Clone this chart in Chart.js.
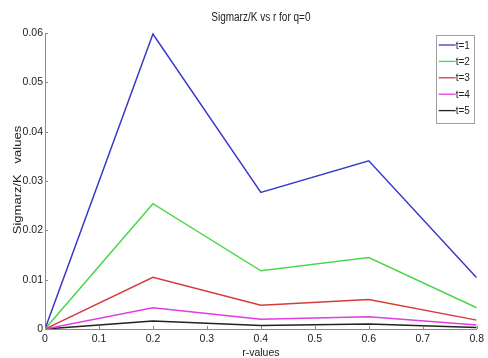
<!DOCTYPE html>
<html>
<head>
<meta charset="utf-8">
<script src="https://cdn.jsdelivr.net/npm/chart.js@4/dist/chart.umd.min.js"></script>
<style>
  html, body { margin: 0; padding: 0; background: #ffffff; }
  #wrap { width: 488px; height: 358px; position: relative; }
</style>
</head>
<body>
<div id="wrap"><canvas id="c" width="488" height="358"></canvas></div>
<script>
// r positions and Sigmarz/K values for each t
const rValues = [0, 0.2, 0.4, 0.6, 0.8];
const seriesT1 = [0, 0.0598, 0.0277, 0.0341, 0.0104];
const seriesT2 = [0, 0.0254, 0.0118, 0.0145, 0.0043];
const seriesT3 = [0, 0.0105, 0.0048, 0.0060, 0.0018];
const seriesT4 = [0, 0.0043, 0.0020, 0.0025, 0.0008];
const seriesT5 = [0, 0.0016, 0.0007, 0.0010, 0.0003];
const seriesLabels = ['t=1', 't=2', 't=3', 't=4', 't=5'];
const seriesColors = ['#3a3ac8', '#4cd64c', '#d43c3c', '#e03ee0', '#222222'];

const xTickValues = [0, 0.1, 0.2, 0.3, 0.4, 0.5, 0.6, 0.7, 0.8];
const xTickLabels = ['0', '0.1', '0.2', '0.3', '0.4', '0.5', '0.6', '0.7', '0.8'];
const yTickValues = [0, 0.01, 0.02, 0.03, 0.04, 0.05, 0.06];
const yTickLabels = ['0', '0.01', '0.02', '0.03', '0.04', '0.05', '0.06'];

const chartTitle = 'Sigmarz/K vs r for q=0';
const xTitle = 'r-values';
const yTitle = 'Sigmarz/K   values';

const FONT = "'Liberation Sans', Arial, sans-serif";
const AXIS_GRAY = '#8a8a8a';
const TEXT_COLOR = '#222';

const allSeries = [seriesT1, seriesT2, seriesT3, seriesT4, seriesT5];
const datasets = allSeries.map((vals, i) => ({
  label: seriesLabels[i],
  data: vals.map((v, j) => ({ x: rValues[j], y: v })),
  borderColor: seriesColors[i],
  backgroundColor: seriesColors[i],
  borderWidth: 1.5,
  pointRadius: 0,
  tension: 0,
  fill: false
}));

// Chart title over the plot area and the rotated y-axis title,
// both set in a slightly tall, narrow letterform
const titlesPlugin = {
  id: 'titles',
  afterDraw(chart) {
    const { ctx, chartArea } = chart;
    ctx.save();
    ctx.font = '10px ' + FONT;
    ctx.fillStyle = TEXT_COLOR;
    ctx.textAlign = 'center';
    ctx.textBaseline = 'middle';
    ctx.translate((chartArea.left + chartArea.right) / 2, 18);
    ctx.scale(1, 1.2);
    ctx.fillText(chartTitle, 0, 0);
    ctx.restore();

    ctx.save();
    ctx.font = '10px ' + FONT;
    ctx.fillStyle = TEXT_COLOR;
    ctx.textAlign = 'center';
    ctx.textBaseline = 'middle';
    ctx.translate(18, (chartArea.top + chartArea.bottom) / 2 - 1);
    ctx.rotate(-Math.PI / 2);
    ctx.scale(1.3, 1);
    ctx.fillText(yTitle, 0, 0);
    ctx.restore();
  }
};

// Short tick marks pointing into the plot area
const innerTicks = {
  id: 'innerTicks',
  afterDraw(chart) {
    const { ctx, chartArea, scales } = chart;
    ctx.save();
    ctx.strokeStyle = AXIS_GRAY;
    ctx.lineWidth = 1;
    ctx.beginPath();
    xTickValues.forEach(v => {
      const px = Math.round(scales.x.getPixelForValue(v)) + 0.5;
      ctx.moveTo(px, chartArea.bottom);
      ctx.lineTo(px, chartArea.bottom - 3);
    });
    yTickValues.forEach(v => {
      const py = Math.round(scales.y.getPixelForValue(v)) + 0.5;
      ctx.moveTo(chartArea.left, py);
      ctx.lineTo(chartArea.left + 3, py);
    });
    ctx.stroke();
    ctx.restore();
  }
};

// Boxed legend in the upper right corner of the plot
const boxLegend = {
  id: 'boxLegend',
  afterDraw(chart) {
    const { ctx, chartArea } = chart;
    const boxW = 38, rowH = 16.4, padTop = 10;
    const n = chart.data.datasets.length;
    const boxH = padTop * 2 + rowH * (n - 1) + 2;
    const right = chartArea.right - 3;
    const left = right - boxW;
    const top = chartArea.top + 2;
    ctx.save();
    ctx.fillStyle = '#fff';
    ctx.fillRect(left, top, boxW, boxH);
    ctx.strokeStyle = '#a0a0a0';
    ctx.lineWidth = 1;
    ctx.strokeRect(Math.round(left) + 0.5, Math.round(top) + 0.5, boxW, Math.round(boxH));
    ctx.font = '10px ' + FONT;
    ctx.textAlign = 'left';
    ctx.textBaseline = 'middle';
    chart.data.datasets.forEach((ds, i) => {
      const y = top + padTop + rowH * i;
      ctx.strokeStyle = ds.borderColor;
      ctx.lineWidth = 1.3;
      ctx.beginPath();
      ctx.moveTo(left + 3, y);
      ctx.lineTo(left + 20, y);
      ctx.stroke();
      ctx.save();
      ctx.fillStyle = TEXT_COLOR;
      ctx.translate(left + 20, y + 0.5);
      ctx.scale(1, 1.15);
      ctx.fillText(ds.label, 0, 0);
      ctx.restore();
    });
    ctx.restore();
  }
};

new Chart(document.getElementById('c'), {
  type: 'line',
  data: { datasets },
  plugins: [titlesPlugin, innerTicks, boxLegend],
  options: {
    responsive: false,
    animation: false,
    devicePixelRatio: 1,
    layout: { padding: { top: 33, right: 6, left: 0, bottom: 0 } },
    plugins: {
      legend: { display: false },
      tooltip: { enabled: false },
      title: { display: false }
    },
    scales: {
      x: {
        type: 'linear',
        min: 0,
        max: 0.8,
        afterFit(scale) { scale.height = 29; },
        afterBuildTicks(scale) { scale.ticks = xTickValues.map(v => ({ value: v })); },
        grid: { display: true, drawOnChartArea: false, drawTicks: false },
        border: { display: true, color: AXIS_GRAY, width: 1 },
        ticks: {
          padding: 4,
          color: TEXT_COLOR,
          font: { family: FONT, size: 10.5 },
          maxRotation: 0,
          autoSkip: false,
          callback: (v, i) => xTickLabels[i]
        },
        title: {
          display: true,
          text: xTitle,
          color: TEXT_COLOR,
          font: { family: FONT, size: 10.5 },
          padding: { top: 0, bottom: -1 }
        }
      },
      y: {
        type: 'linear',
        min: 0,
        max: 0.06,
        afterFit(scale) { scale.width = 45; },
        afterBuildTicks(scale) { scale.ticks = yTickValues.map(v => ({ value: v })); },
        grid: { display: true, drawOnChartArea: false, drawTicks: false },
        border: { display: true, color: AXIS_GRAY, width: 1 },
        ticks: {
          padding: 2,
          color: TEXT_COLOR,
          font: { family: FONT, size: 10.5 },
          autoSkip: false,
          callback: (v, i) => yTickLabels[i]
        },
        title: { display: false }
      }
    }
  }
});
</script>
</body>
</html>
